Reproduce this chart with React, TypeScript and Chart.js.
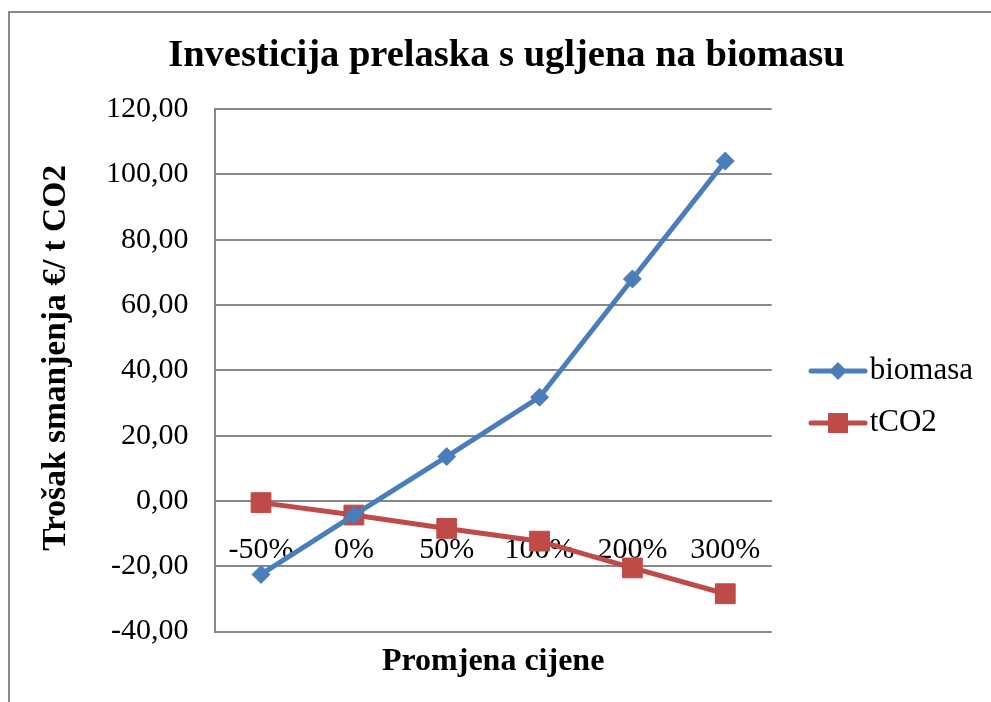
import React, { useEffect, useRef } from "react";
import { Chart, registerables } from "chart.js";

Chart.register(...registerables);

const categories = ["-50%", "0%", "50%", "100%", "200%", "300%"];
const biomasaValues = [-22.5, -4.3, 13.6, 31.8, 68, 104.1];
const tco2Values = [-0.5, -4.3, -8.4, -12.3, -20.5, -28.4];
const seriesNames = ["biomasa", "tCO2"];
const chartTitle = "Investicija prelaska s ugljena na biomasu";
const yTitle = "   Trošak smanjenja €/ t CO2";
const xTitle = "Promjena cijene";

const BLUE = "#4A7EBB";
const RED = "#BE4B48";
const GRID = "#888888";
const FONT = "'Liberation Serif', 'Times New Roman', serif";

function legendImage(color: string, kind: "diamond" | "square"): HTMLCanvasElement {
  const c = document.createElement("canvas");
  c.width = 89;
  c.height = 30;
  const ctx = c.getContext("2d")!;
  ctx.strokeStyle = color;
  ctx.lineWidth = 5;
  ctx.lineCap = "round";
  ctx.beginPath();
  ctx.moveTo(32, 15);
  ctx.lineTo(86, 15);
  ctx.stroke();
  ctx.fillStyle = color;
  const cx = 59;
  const cy = 15;
  ctx.beginPath();
  if (kind === "diamond") {
    ctx.moveTo(cx, cy - 9);
    ctx.lineTo(cx + 9, cy);
    ctx.lineTo(cx, cy + 9);
    ctx.lineTo(cx - 9, cy);
    ctx.closePath();
  } else {
    ctx.rect(cx - 10, cy - 10, 20, 20);
  }
  ctx.fill();
  return c;
}

export default function App() {
  const canvasRef = useRef<HTMLCanvasElement | null>(null);

  useEffect(() => {
    if (!canvasRef.current) return;
    Chart.defaults.color = "#000";
    const images = [legendImage(BLUE, "diamond"), legendImage(RED, "square")];
    const chart = new Chart(canvasRef.current, {
      type: "line",
      data: {
        labels: categories,
        datasets: [
          {
            label: seriesNames[0],
            data: biomasaValues,
            borderColor: BLUE,
            backgroundColor: BLUE,
            borderWidth: 5,
            pointStyle: "rectRot",
            pointRadius: 9,
            pointBorderWidth: 1,
            pointBackgroundColor: BLUE,
            pointBorderColor: BLUE,
            tension: 0,
          },
          {
            label: seriesNames[1],
            data: tco2Values,
            borderColor: RED,
            backgroundColor: RED,
            borderWidth: 5,
            pointStyle: "rect",
            pointRadius: 14,
            pointBorderWidth: 1,
            pointBackgroundColor: RED,
            pointBorderColor: RED,
            tension: 0,
          },
        ],
      },
      options: {
        animation: false,
        responsive: true,
        maintainAspectRatio: false,
        layout: { padding: { left: 19.8, top: 10, right: 8, bottom: 18 } },
        plugins: {
          tooltip: { enabled: false },
          title: {
            display: true,
            text: chartTitle,
            color: "#000",
            font: { family: FONT, size: 38.5, weight: "bold" },
            padding: { top: 10, bottom: 30 },
          },
          legend: {
            display: true,
            position: "right",
            fullSize: false,
            title: { display: true, text: "", font: { size: 1 }, padding: { top: 26, bottom: 26 } },
            labels: {
              usePointStyle: true,
              pointStyleWidth: 61.5,
              padding: 21,
              color: "#000",
              font: { family: FONT, size: 31 },
              generateLabels: (ch: any) => {
                const base = Chart.defaults.plugins.legend.labels.generateLabels(ch);
                return base.map((item: any, i: number) => ({ ...item, pointStyle: images[i] }));
              },
            },
          },
        },
        scales: {
          x: {
            type: "category",
            position: { y: 0 } as any,
            offset: true,
            grid: { display: false, drawTicks: false },
            border: { display: true, color: GRID, width: 2 },
            ticks: {
              color: "#000",
              font: { family: FONT, size: 30 },
              padding: 31,
              maxRotation: 0,
              autoSkip: false,
            },
          },
          x2: {
            type: "category",
            labels: categories,
            position: "bottom",
            offset: true,
            grid: { display: false, drawTicks: false },
            border: { display: false },
            ticks: { display: false },
            title: {
              display: true,
              text: xTitle,
              color: "#000",
              font: { family: FONT, size: 32, weight: "bold" },
              padding: { top: 11, bottom: 3 },
            },
          },
          y: {
            min: -40,
            max: 120,
            ticks: {
              stepSize: 20,
              color: "#000",
              font: { family: FONT, size: 30 },
              padding: 26,
              callback: (v: any) => Number(v).toFixed(2).replace(".", ","),
            },
            grid: { color: GRID, lineWidth: 2, drawTicks: false },
            border: { display: true, color: GRID, width: 2 },
            title: {
              display: true,
              text: yTitle,
              color: "#000",
              font: { family: FONT, size: 33.5, weight: "bold" },
              padding: { top: 6.1, bottom: 4 },
            },
          },
        },
      },
    });
    return () => chart.destroy();
  }, []);

  return (
    <div
      style={{
        position: "fixed",
        left: 8,
        top: 11,
        right: 0,
        bottom: 0,
        borderTop: "2px solid #898989",
        borderLeft: "2px solid #898989",
        boxSizing: "border-box",
        background: "#fff",
      }}
    >
      <div style={{ position: "relative", width: "100%", height: "100%" }}>
        <canvas ref={canvasRef} />
      </div>
    </div>
  );
}
